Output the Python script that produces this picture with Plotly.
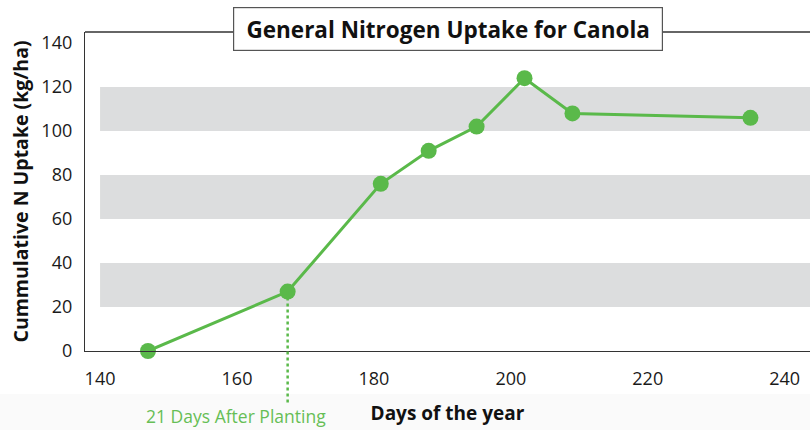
import plotly.graph_objects as go

# Data
days = [147, 167.4, 181, 188, 195, 202, 209, 235]
uptake = [0, 27, 76, 91, 102, 124, 108, 106]
x_ticks = [140, 160, 180, 200, 220, 240]
y_ticks = [0, 20, 40, 60, 80, 100, 120, 140]
bands = [(20, 40), (60, 80), (100, 120)]
planting_marker_day = 167.4
planting_marker_value = 27
title_text = "General Nitrogen Uptake for Canola"
x_title = "Days of the year"
y_title = "Cummulative N Uptake (kg/ha)"
note_text = "21 Days After Planting"

GREEN = "#5ab94a"
BAND = "#dcddde"
FONT = "Open Sans"
x_range = [137.8, 243.7]
y_range = [0, 145]

fig = go.Figure()

fig.add_trace(go.Scatter(
    x=days, y=uptake, mode="lines+markers",
    line=dict(color=GREEN, width=3),
    marker=dict(color=GREEN, size=16),
    cliponaxis=False, showlegend=False, hoverinfo="x+y",
))

shapes = []
# faint gray footer background
shapes.append(dict(type="rect", xref="paper", yref="paper", x0=-0.2, x1=1.1,
                   y0=-0.3, y1=-0.135, fillcolor="#fafafa", line=dict(width=0), layer="below"))
for lo, hi in bands:
    shapes.append(dict(type="rect", xref="x", yref="y", x0=140, x1=x_range[1],
                       y0=lo, y1=hi, fillcolor=BAND, line=dict(width=0), layer="below"))
# top border line
shapes.append(dict(type="line", xref="paper", yref="paper", x0=0, x1=1, y0=1, y1=1,
                   line=dict(color="#333333", width=1.3)))
# dotted line marking 21 days after planting
px = (planting_marker_day - x_range[0]) / (x_range[1] - x_range[0])
py = (planting_marker_value - y_range[0]) / (y_range[1] - y_range[0])
shapes.append(dict(type="line", xref="paper", yref="paper", x0=px, x1=px,
                   y0=py, y1=-0.165, line=dict(color=GREEN, width=2.5, dash="dot")))

annotations = [
    dict(text="<b>" + title_text + "</b>", xref="paper", yref="paper", x=0.5, y=1.0094,
         xanchor="center", yanchor="middle", showarrow=False,
         font=dict(family=FONT, size=22.5, color="#111111"),
         bgcolor="white", bordercolor="#555555", borderwidth=1.2, borderpad=3,
         width=422, height=36),
    dict(text=note_text, xref="paper", yref="paper", x=0.208, y=-0.205,
         xanchor="center", yanchor="middle", showarrow=False,
         font=dict(family=FONT, size=17.5, color="#66be55")),
]

fig.update_layout(
    width=810, height=430,
    margin=dict(l=85, r=0, t=32, b=79),
    paper_bgcolor="white", plot_bgcolor="white",
    font=dict(family=FONT, size=18, color="#1a1a1a"),
    shapes=shapes, annotations=annotations,
    xaxis=dict(
        range=x_range, tickvals=x_ticks, ticktext=[str(v) for v in x_ticks],
        showgrid=False, zeroline=False, showline=True, linecolor="#333333", linewidth=1.3,
        ticks="", ticklabelstandoff=11, automargin=False,
        title=dict(text="<b>" + x_title + "</b>", font=dict(family=FONT, size=19, color="#111111"),
                   standoff=17),
    ),
    yaxis=dict(
        range=y_range, tickvals=y_ticks, ticktext=[str(v) for v in y_ticks],
        showgrid=False, zeroline=False, showline=True, linecolor="#333333", linewidth=1.3,
        ticks="", ticklabelstandoff=8, automargin=False,
        title=dict(text="<b>" + y_title + "</b>", font=dict(family=FONT, size=19.5, color="#111111"),
                   standoff=7),
    ),
)

fig.write_html("out.html", config={"displayModeBar": False},
               post_script="document.body.style.margin='0';document.body.style.overflow='hidden';")
